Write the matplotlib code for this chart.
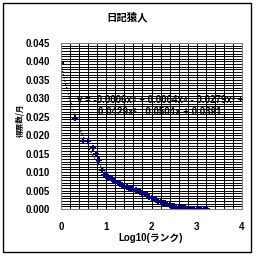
import numpy as np
import matplotlib.pyplot as plt
from matplotlib.patches import Rectangle
from matplotlib.ticker import MultipleLocator

# log10(rank) and votes share per month
top_x = [0.0, 0.301, 0.477, 0.602, 0.699, 0.778, 0.845, 0.903, 0.954]
top_y = [0.0395, 0.0246, 0.0183, 0.0183, 0.0165, 0.0148, 0.0133, 0.0106, 0.0092]
tail_x = [1.00, 1.04, 1.08, 1.12, 1.16, 1.20, 1.25, 1.30, 1.35, 1.40, 1.45, 1.50,
          1.55, 1.60, 1.65, 1.70, 1.75, 1.80, 1.85, 1.90, 1.95, 2.00, 2.05, 2.10,
          2.15, 2.20, 2.25, 2.30, 2.35, 2.40, 2.45, 2.50, 2.55, 2.60, 2.65, 2.70,
          2.75, 2.80, 2.85, 2.90, 2.95, 3.00, 3.05, 3.10, 3.15, 3.20, 3.22]
tail_y = [0.0090, 0.0088, 0.0085, 0.0081, 0.0078, 0.0075, 0.0071, 0.0068, 0.0065,
          0.0062, 0.0060, 0.0058, 0.0056, 0.0054, 0.0051, 0.0049, 0.0046, 0.0043,
          0.0040, 0.0037, 0.0033, 0.0030, 0.0027, 0.0025, 0.0022, 0.0020, 0.0017,
          0.0015, 0.0013, 0.0011, 0.0009, 0.0007, 0.0005, 0.0004, 0.0003, 0.0002,
          0.00015, 0.0001, 0.0001, 0.00008, 0.00007, 0.00006, 0.00005, 0.00005,
          0.00004, 0.00004, 0.00004]

title = "日記猿人"
xlabel = "Log10(ランク)"
ylabel = "得票数/月"
eq_text = "y = -0.0006x⁵ + 0.0064x⁴ - 0.0279x³ +\n0.0429x² - 0.0504x + 0.0391"

x = np.array(top_x + tail_x)
y = np.array(top_y + tail_y)

fig = plt.figure(figsize=(2.56, 2.56), dpi=100)
fig.patches.append(Rectangle((3 / 256, 4 / 256), 248 / 256, 249 / 256,
                             transform=fig.transFigure, fill=False,
                             ec="black", lw=1))
ax = fig.add_axes([61 / 256, 1 - 209 / 256, 181 / 256, 166 / 256])

ax.set_xlim(0, 4)
ax.set_ylim(0, 0.045)
ax.xaxis.set_major_locator(MultipleLocator(1))
ax.xaxis.set_minor_locator(MultipleLocator(0.2))
ax.yaxis.set_major_locator(MultipleLocator(0.005))
ax.yaxis.set_minor_locator(MultipleLocator(0.005 / 7))
ax.grid(which="both", color="black", lw=0.7)
ax.set_axisbelow(True)
ax.tick_params(which="both", length=0)
ax.tick_params(axis="y", pad=8)
ax.tick_params(axis="x", pad=9)
for s in ax.spines.values():
    s.set_color("#808080")
    s.set_linewidth(0.8)

ax.set_yticks(np.arange(0, 0.0451, 0.005))
ax.set_yticklabels([f"{v:.3f}" for v in np.arange(0, 0.0451, 0.005)])
for lab in ax.get_xticklabels() + ax.get_yticklabels():
    lab.set_fontfamily(["Liberation Sans", "DejaVu Sans"])
    lab.set_fontweight("bold")
    lab.set_fontsize(7)

ax.plot(x, y, ls="none", marker="P", ms=4, mew=0, color="#000080")

coef = np.polyfit(x, y, 5)
xf = np.linspace(0, x.max(), 200)
ax.plot(xf, np.polyval(coef, xf), color="black", ls=":", lw=0.9)

fig.text(160 / 256, 1 - 106 / 256, eq_text, ha="center", va="center",
         fontsize=7, fontweight="bold", family=["Liberation Sans", "DejaVu Sans"],
         linespacing=1.2)

fig.text(127 / 256, 1 - 17 / 256, title, ha="center", va="center",
         fontsize=7.5, fontweight="bold", family=["Noto Sans CJK JP"])
fig.text(151 / 256, 1 - 238 / 256, xlabel, ha="center", va="center",
         fontsize=7, fontweight="bold",
         family=["Liberation Sans", "Noto Sans CJK JP"])
fig.text(20 / 256, 1 - 120 / 256, ylabel, ha="center", va="center",
         rotation=90, fontsize=5.5, fontweight="bold",
         family=["Noto Sans CJK JP"])

fig.savefig("out.png", dpi=100)
